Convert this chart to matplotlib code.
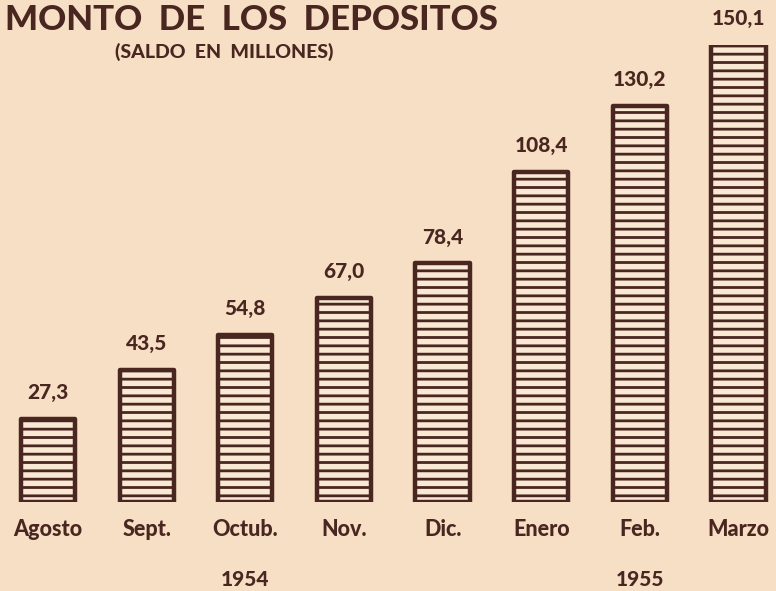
import matplotlib.pyplot as plt

months = ["Agosto", "Sept.", "Octub.", "Nov.", "Dic.", "Enero", "Feb.", "Marzo"]
saldo = [27.3, 43.5, 54.8, 67.0, 78.4, 108.4, 130.2, 150.1]
etiquetas = ["27,3", "43,5", "54,8", "67,0", "78,4", "108,4", "130,2", "150,1"]
years = ["1954", "1955"]
year_pos = [2, 6]

paper = "#f6dfc4"
ink = "#4a2620"

plt.rcParams["hatch.linewidth"] = 2.0
plt.rcParams["font.family"] = ["Lato", "DejaVu Sans"]

fig = plt.figure(figsize=(7.76, 5.91), dpi=100, facecolor=paper)
ax = fig.add_axes([0, 89 / 591, 1, 457 / 591])
ax.set_facecolor(paper)

x = list(range(len(months)))
bars = ax.bar(x, saldo, width=0.55, color="#f9e8d4", edgecolor=ink,
              linewidth=3.2, hatch="--")
for b in bars:
    b.set_joinstyle("round")

ax.set_xlim(-48 / 98.6, 7.38)
ax.set_ylim(0, 150.1)
ax.axis("off")

# value labels above each bar
for i, (v, t) in enumerate(zip(saldo, etiquetas)):
    ax.annotate(t, (i, v), xytext=(0, 12), textcoords="offset points",
                ha="center", va="bottom", fontsize=15, fontweight="black",
                color=ink)

# month names under the bars
for i, m in enumerate(months):
    ax.annotate(m, (i, 0), xytext=(0, -12), textcoords="offset points",
                ha="center", va="top", fontsize=15.5, fontweight="black",
                color=ink)

for p, y in zip(year_pos, years):
    ax.annotate(y, (p, 0), xytext=(0, -49), textcoords="offset points",
                ha="center", va="top", fontsize=15, fontweight="black",
                color=ink)

fig.text(5 / 776, 1 - 4 / 591, "MONTO  DE  LOS  DEPOSITOS", ha="left", va="top",
         fontsize=25, fontweight="black", color=ink)
fig.text(115 / 776, 1 - 43 / 591, "(SALDO  EN  MILLONES)", ha="left", va="top",
         fontsize=14, fontweight="black", color=ink)

fig.savefig("out.png", dpi=100, facecolor=paper)
